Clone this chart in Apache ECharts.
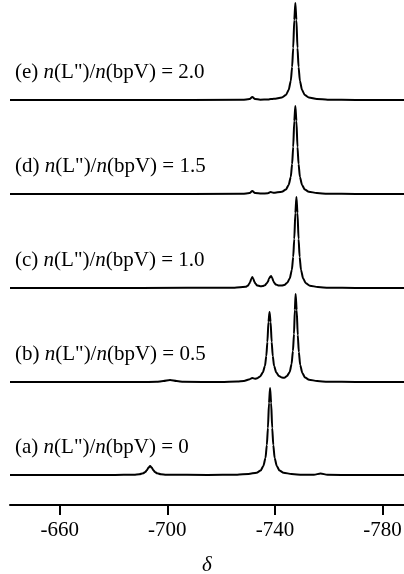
<!DOCTYPE html>
<html>
<head>
<meta charset="utf-8">
<script src="https://cdn.jsdelivr.net/npm/echarts@6/dist/echarts.min.js"></script>
<style>
  html, body { margin: 0; padding: 0; background: #fff; }
  #chart { width: 404px; height: 574px; }
</style>
</head>
<body>
<div id="chart"></div>
<script>
// δ tick labels
var deltaTicks = [-660, -700, -740, -780];

// trace labels, top to bottom (ratio n(L")/n(bpV))
var traceTags = ['(e)', '(d)', '(c)', '(b)', '(a)'];
var traceRatios = ['2.0', '1.5', '1.0', '0.5', '0'];

// spectra, [δ, intensity]
var specE = [
    [-641.5, 0], [-690, 0], [-728, 0.2], [-730.6, 1], [-731.6, 3], [-732.6, 1], [-734.5, 0.3],
    [-737.5, 0.6], [-738.5, 1], [-739.6, 1.2], [-742.6, 2.5], [-744.1, 5], [-745.1, 10],
    [-745.9, 19], [-746.4, 33], [-746.8, 52], [-747.2, 80], [-747.6, 97], [-748.0, 80],
    [-748.4, 52], [-748.8, 33], [-749.3, 19], [-750.1, 10], [-751.1, 5], [-752.6, 2.5],
    [-755.6, 1], [-759.6, 0.3], [-770, 0], [-788, 0]
];
var specD = [
    [-641.5, 0], [-690, 0], [-728, 0.2], [-730.6, 1], [-731.6, 3], [-732.6, 1], [-735, 0.4],
    [-737.4, 0.8], [-738.4, 2], [-739.4, 1.2], [-742.6, 2.3], [-744.1, 4.5], [-745.1, 9],
    [-745.9, 17], [-746.4, 30], [-746.8, 47], [-747.2, 73], [-747.6, 88], [-748.0, 73],
    [-748.4, 47], [-748.8, 30], [-749.3, 17], [-750.1, 9], [-751.1, 4.5], [-752.6, 2.3],
    [-755.6, 0.9], [-759.6, 0.3], [-770, 0], [-788, 0]
];
var specC = [
    [-641.5, 0], [-690, 0], [-725, 0.3], [-729.1, 1.2], [-729.9, 2.2], [-730.4, 4], [-730.8, 6],
    [-731.2, 9], [-731.6, 11], [-732.0, 9], [-732.4, 6], [-732.8, 4.2], [-733.4, 2.6],
    [-734.5, 1.8], [-735.5, 1.9], [-736.3, 2.7], [-736.9, 4.4], [-737.4, 6.3], [-737.8, 9.2],
    [-738.2, 11], [-738.6, 12], [-739.0, 10], [-739.4, 7], [-739.8, 5], [-740.4, 3.4],
    [-741.5, 2.4], [-742.6, 2.4], [-743.5, 3], [-744.5, 5], [-745.5, 9.4], [-746.3, 18],
    [-746.8, 31], [-747.2, 49], [-747.6, 75], [-748.0, 91], [-748.4, 75], [-748.8, 49],
    [-749.2, 31], [-749.7, 18], [-750.5, 9.4], [-751.5, 4.7], [-753, 2.3], [-756, 0.9],
    [-760, 0.3], [-770, 0], [-788, 0]
];
var specB = [
    [-641.5, 0], [-690, 0], [-696, 0.2], [-698.5, 1], [-701, 2], [-703.5, 1], [-706, 0.2],
    [-720, 0], [-726, 0.4], [-728.5, 1], [-730.3, 2.5], [-731.6, 4], [-732.6, 3.2],
    [-733.5, 3.8], [-734.5, 5.6], [-735.5, 9.5], [-736.3, 16], [-736.8, 26], [-737.2, 40],
    [-737.6, 60], [-738.0, 70], [-738.4, 60], [-738.8, 40], [-739.2, 26], [-739.7, 16],
    [-740.5, 9.5], [-741.5, 6], [-742.6, 4.4], [-743.5, 4.2], [-744.5, 6], [-745.5, 10],
    [-746.2, 18], [-746.7, 31], [-747.1, 48], [-747.4, 72], [-747.7, 88], [-748.1, 72],
    [-748.5, 47], [-748.9, 30], [-749.4, 17], [-750.2, 9], [-751.2, 4.5], [-752.7, 2.3],
    [-755.7, 0.9], [-759.7, 0.3], [-770, 0], [-788, 0]
];
var specA = [
    [-641.5, 0], [-680, 0], [-687.6, 0.3], [-689.6, 0.8], [-691, 1.7], [-691.8, 3],
    [-692.4, 4.8], [-693.0, 7.4], [-693.6, 9], [-694.2, 7.4], [-694.8, 4.8], [-695.4, 3],
    [-696.2, 1.7], [-697.6, 0.8], [-699.6, 0.3], [-715, 0], [-726, 0.3], [-730.2, 1],
    [-733.2, 2.3], [-734.7, 4.5], [-735.7, 9], [-736.5, 17], [-737.0, 30], [-737.4, 47],
    [-737.8, 72], [-738.2, 87], [-738.6, 72], [-739.0, 47], [-739.4, 30], [-739.9, 17],
    [-740.7, 9], [-741.7, 4.5], [-743.2, 2.3], [-746.2, 0.9], [-750.2, 0.3], [-754.5, 0.2],
    [-757, 1.5], [-759.5, 0.2], [-770, 0], [-788, 0]
];
var spectra = [specE, specD, specC, specB, specA];

// baselines of the stacked traces, px from top
var baselines = [100, 194, 288, 382, 475];

var serifFont = '"Liberation Serif", "Times New Roman", serif';

var grids = [], xAxes = [], yAxes = [], series = [], labels = [];
for (let i = 0; i < spectra.length; i++) {
    let isBottom = (i === spectra.length - 1);
    grids.push({ left: 10, right: 0, top: baselines[i] - 100, height: 100, outerBoundsMode: 'none', containLabel: false });
    xAxes.push({
        gridIndex: i,
        type: 'value',
        min: -788,
        max: -641.5,
        inverse: true,
        show: isBottom,
        offset: 30,
        name: isBottom ? 'δ' : '',
        nameLocation: 'middle',
        nameGap: 50,
        nameTextStyle: { fontFamily: serifFont, fontStyle: 'italic', fontSize: 21, color: '#000' },
        splitLine: { show: false },
        axisLine: { show: true, onZero: false, lineStyle: { color: '#000', width: 2 } },
        axisTick: { show: true, length: 10, lineStyle: { color: '#000', width: 2 }, customValues: deltaTicks },
        axisLabel: { show: true, customValues: deltaTicks, fontFamily: serifFont, fontSize: 21, color: '#000', margin: 15 }
    });
    yAxes.push({ gridIndex: i, type: 'value', min: 0, max: 100, show: false });
    series.push({
        type: 'line',
        xAxisIndex: i,
        yAxisIndex: i,
        data: spectra[i],
        symbol: 'none',
        smooth: 0.25,
        smoothMonotone: 'x',
        clip: false,
        lineStyle: { color: '#000', width: 2 },
        silent: true
    });
    labels.push({
        type: 'text',
        left: 15,
        top: baselines[i] - 38,
        style: {
            text: '{t|' + traceTags[i] + ' }{i|n}{t|(L")/}{i|n}{t|(bpV) = ' + traceRatios[i] + '}',
            rich: {
                t: { fontFamily: serifFont, fontSize: 21, fill: '#000' },
                i: { fontFamily: serifFont, fontSize: 21, fontStyle: 'italic', fill: '#000' }
            }
        }
    });
}

var chart = echarts.init(document.getElementById('chart'), null, { renderer: 'canvas' });
chart.setOption({
    animation: false,
    backgroundColor: '#fff',
    grid: grids,
    xAxis: xAxes,
    yAxis: yAxes,
    series: series,
    graphic: labels
});
</script>
</body>
</html>
